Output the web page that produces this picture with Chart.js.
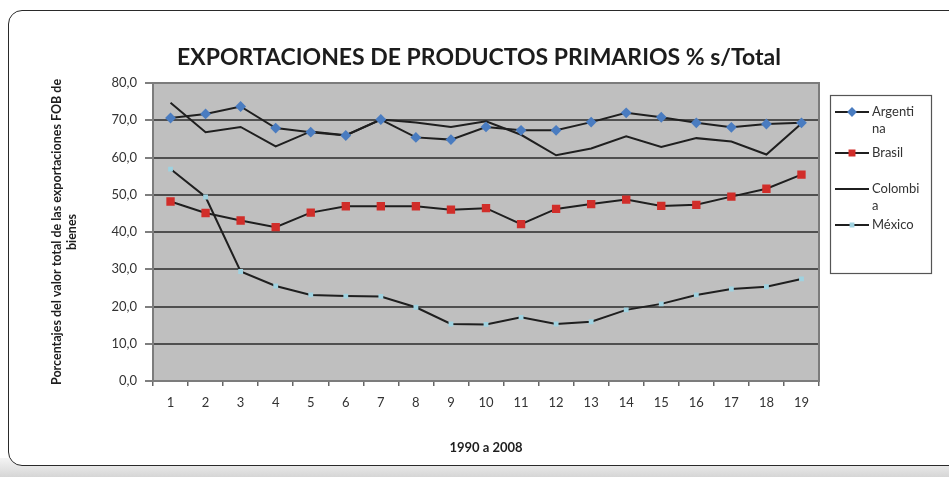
<!DOCTYPE html>
<html>
<head>
<meta charset="utf-8">
<title>Exportaciones de productos primarios</title>
<script src="https://cdn.jsdelivr.net/npm/chart.js@4.4.1/dist/chart.umd.min.js"></script>
<style>
  html, body { margin: 0; padding: 0; background: #fff; }
  #wrap { position: relative; width: 949px; height: 477px; overflow: hidden; background: #fff; }
  #shade { position: absolute; left: 0; top: 458px; width: 949px; height: 19px; background: linear-gradient(#f4f4f4, #d6d6d6); }
  #frame { position: absolute; left: 8px; top: 10px; width: 980px; height: 454px; border: 1.5px solid #2a2a2a; border-radius: 14px; background: #fff; }
  #chart { position: absolute; left: 0; top: 0; }
</style>
</head>
<body>
<div id="wrap">
  <div id="shade"></div>
  <div id="frame"></div>
  <canvas id="chart" width="949" height="477"></canvas>
</div>
<script>
// Years 1990..2008 numbered 1..19
const years = ["1", "2", "3", "4", "5", "6", "7", "8", "9", "10",
               "11", "12", "13", "14", "15", "16", "17", "18", "19"];

// Share of primary products in total FOB exports (%)
const argentina = [70.6, 71.7, 73.7, 67.9, 66.8, 65.9, 70.2, 65.4, 64.8, 68.2,
                   67.3, 67.3, 69.5, 72.0, 70.8, 69.3, 68.1, 69.0, 69.3];
const brasil = [48.2, 45.1, 43.1, 41.3, 45.2, 46.9, 46.9, 46.9, 46.0, 46.4,
                42.1, 46.2, 47.5, 48.7, 47.0, 47.3, 49.5, 51.6, 55.4];
const colombia = [74.7, 66.8, 68.2, 63.0, 67.0, 66.0, 70.2, 69.4, 68.2, 69.7,
                  66.1, 60.6, 62.4, 65.7, 62.8, 65.2, 64.3, 60.8, 69.1];
const mexico = [56.9, 49.4, 29.4, 25.5, 23.1, 22.8, 22.7, 19.8, 15.3, 15.2,
                17.1, 15.3, 15.9, 19.1, 20.7, 23.1, 24.7, 25.3, 27.4];

const legendText = [["Argenti", "na"], ["Brasil"], ["Colombi", "a"], ["México"]];
const chartTitle = "EXPORTACIONES DE PRODUCTOS PRIMARIOS % s/Total";

const FONT = "Lato, 'DejaVu Sans', sans-serif";
const LINE = "#1f1f1f";

// grey plot background + outline, title above it
const plotArea = {
  id: "plotArea",
  beforeDraw(chart) {
    const { ctx, chartArea: a } = chart;
    ctx.save();
    ctx.fillStyle = "#bfbfbf";
    ctx.fillRect(a.left, a.top, a.right - a.left, a.bottom - a.top);
    ctx.font = "bold 23px " + FONT;
    ctx.fillStyle = "#1c1c1c";
    ctx.textAlign = "center";
    ctx.textBaseline = "middle";
    ctx.fillText(chartTitle, 479, 58);
    ctx.restore();
  },
  beforeDatasetsDraw(chart) {
    const { ctx, chartArea: a } = chart;
    ctx.save();
    ctx.strokeStyle = "#7c7c7c";
    ctx.lineWidth = 2;
    ctx.strokeRect(a.left, a.top, a.right - a.left, a.bottom - a.top);
    ctx.restore();
  }
};

// boxed legend on the right, with wrapped names
const boxLegend = {
  id: "boxLegend",
  afterDraw(chart) {
    const ctx = chart.ctx;
    const rows = [112, 153, 189, 225];
    ctx.save();
    ctx.strokeStyle = "#555";
    ctx.lineWidth = 1.2;
    ctx.strokeRect(830.5, 95.5, 101, 178);
    ctx.font = "13px " + FONT;
    ctx.textBaseline = "middle";
    chart.data.datasets.forEach((ds, i) => {
      const y = rows[i];
      ctx.strokeStyle = LINE;
      ctx.lineWidth = 2;
      ctx.beginPath();
      ctx.moveTo(835, y);
      ctx.lineTo(869, y);
      ctx.stroke();
      if (ds.pointRadius > 0) {
        ctx.fillStyle = ds.pointBackgroundColor;
        ctx.strokeStyle = ds.pointBorderColor;
        Chart.helpers.drawPoint(ctx, {
          pointStyle: ds.pointStyle, radius: Math.min(ds.pointRadius, 3.5), borderWidth: 1
        }, 852, y);
      }
      ctx.fillStyle = "#333";
      legendText[i].forEach((t, k) => ctx.fillText(t, 872, y + k * 17));
    });
    ctx.restore();
  }
};

new Chart(document.getElementById("chart"), {
  type: "line",
  data: {
    labels: years,
    datasets: [
      { label: "Argentina", data: argentina, borderColor: LINE, borderWidth: 2,
        pointStyle: "rectRot", pointRadius: 4, pointBackgroundColor: "#4a7cc0",
        pointBorderColor: "#4a7cc0", tension: 0 },
      { label: "Brasil", data: brasil, borderColor: LINE, borderWidth: 2,
        pointStyle: "rect", pointRadius: 4.5, pointBackgroundColor: "#d12e2a",
        pointBorderColor: "#d12e2a", tension: 0 },
      { label: "Colombia", data: colombia, borderColor: LINE, borderWidth: 2,
        pointRadius: 0, tension: 0 },
      { label: "México", data: mexico, borderColor: LINE, borderWidth: 2,
        pointStyle: "rect", pointRadius: 2, pointBackgroundColor: "#9fd2e0",
        pointBorderColor: "#9fd2e0", tension: 0 }
    ]
  },
  options: {
    responsive: false,
    animation: false,
    layout: { padding: { left: 40, right: 130, top: 83, bottom: 18 } },
    plugins: {
      legend: { display: false },
      tooltip: { enabled: false },
      title: { display: false }
    },
    scales: {
      x: {
        offset: true,
        afterFit(scale) { scale.height = 78; },
        grid: { offset: true, drawOnChartArea: false, tickLength: 5, color: "#666", lineWidth: 1.5 },
        border: { color: "#7c7c7c", width: 2 },
        ticks: { color: "#333", padding: 9, font: { family: FONT, size: 13 } },
        title: {
          display: true, text: "1990 a 2008", color: "#1e1e1e",
          font: { family: FONT, size: 13, weight: "bold" },
          padding: { top: 0, bottom: 3 }
        }
      },
      y: {
        min: 0,
        max: 80,
        afterFit(scale) { scale.width = 113; },
        grid: { color: "#4f4f4f", lineWidth: 2, tickLength: 8, tickColor: "#555", tickWidth: 1.5 },
        border: { color: "#7c7c7c", width: 2 },
        ticks: {
          stepSize: 10, color: "#333", padding: 8,
          font: { family: FONT, size: 13 },
          callback: v => v.toFixed(1).replace(".", ",")
        },
        title: {
          display: true,
          text: ["Porcentajes del valor total de las exportaciones FOB de", "bienes"],
          color: "#1e1e1e",
          font: { family: FONT, size: 12.5, weight: "bold", lineHeight: 1.2 },
          padding: { top: 9, bottom: 0 }
        }
      }
    }
  },
  plugins: [plotArea, boxLegend]
});
</script>
</body>
</html>
